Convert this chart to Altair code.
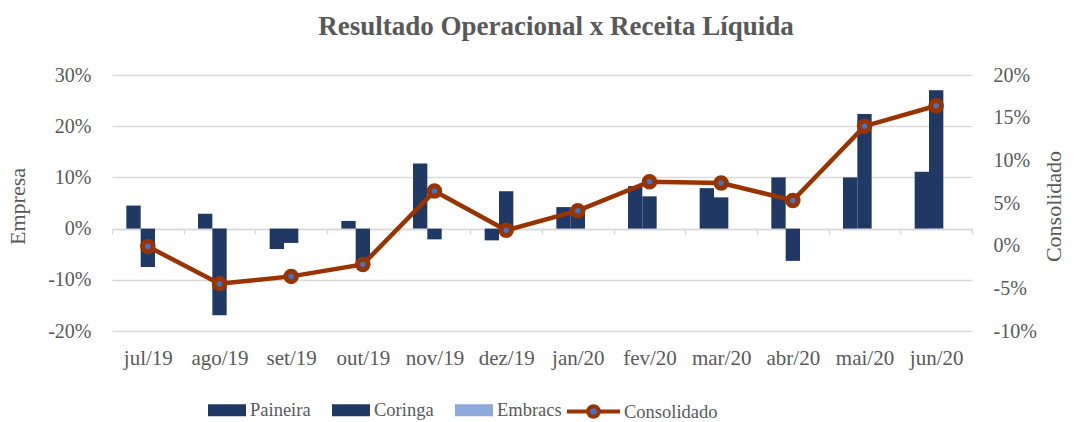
import altair as alt
import pandas as pd

months = ["jul/19", "ago/19", "set/19", "out/19", "nov/19", "dez/19",
          "jan/20", "fev/20", "mar/20", "abr/20", "mai/20", "jun/20"]
paineira = [4.5, 2.9, -4.0, 1.5, 12.7, -2.3, 4.2, 8.3, 7.9, 10.0, 10.0, 11.1]
coringa = [-7.5, -16.9, -2.8, -6.5, -2.1, 7.3, 4.1, 6.3, 6.1, -6.3, 22.4, 27.0]
embracs = [0, 0, 0, 0, 0, 0, 0, 0, 0, 0, 0, 0]
consolidado = [-0.1, -4.45, -3.6, -2.2, 6.4, 1.8, 4.1, 7.5, 7.35, 5.3, 14.0, 16.4]

series = ["Paineira", "Coringa", "Embracs"]
bar_colors = ["#203864", "#203864", "#8EA9DB"]

rows = []
for name, vals in zip(series, [paineira, coringa, embracs]):
    for m, v in zip(months, vals):
        rows.append({"mes": m, "serie": name, "valor": v})
bars_df = pd.DataFrame(rows)
line_df = pd.DataFrame({"mes": months, "valor": consolidado, "serie": "Consolidado"})

FONT = "Liberation Serif"
GREY = "#595959"
GRID = "#D9D9D9"

x_enc = alt.X("mes:N", sort=months,
              scale=alt.Scale(paddingInner=0, paddingOuter=0),
              axis=alt.Axis(title=None, orient="bottom", offset=-102,
                            domainColor=GRID, domainWidth=1.5,
                            tickColor=GRID, tickWidth=1.5, tickSize=5,
                            tickBand="extent", labelAngle=0,
                            labelPadding=113, labelFont=FONT,
                            labelFontSize=21, labelColor=GREY,
                            labelOverlap=False, grid=False))

bars = alt.Chart(bars_df).mark_bar().encode(
    x=x_enc,
    xOffset=alt.XOffset("serie:N", sort=series,
                        scale=alt.Scale(paddingInner=0, paddingOuter=1)),
    y=alt.Y("valor:Q",
            scale=alt.Scale(domain=[-20, 30], nice=False, zero=False),
            axis=alt.Axis(title="Empresa", values=[-20, -10, 0, 10, 20, 30],
                          labelExpr="datum.value + '%'",
                          domain=False, ticks=False, grid=True,
                          gridColor=GRID, gridWidth=1.5,
                          labelFont=FONT, labelFontSize=20, labelColor=GREY,
                          labelPadding=21,
                          titleFont=FONT, titleFontSize=22, titleColor=GREY,
                          titleFontWeight="normal", titleX=-83, titleY=131,
                          titleAngle=270)),
    color=alt.Color("serie:N", sort=series,
                    scale=alt.Scale(domain=series, range=bar_colors),
                    legend=alt.Legend(title=None, orient="none",
                                      direction="horizontal",
                                      legendX=96, legendY=316,
                                      symbolType="M-1,-0.32H1V0.32H-1Z",
                                      symbolSize=1444, symbolStrokeWidth=0,
                                      labelFont=FONT, labelFontSize=18.5,
                                      labelColor=GREY, labelOffset=4,
                                      columnPadding=21)),
)

right_axis = alt.Axis(title="Consolidado", orient="right",
                      values=[-10, -5, 0, 5, 10, 15, 20],
                      labelExpr="datum.value + '%'",
                      domain=False, ticks=False, grid=False,
                      labelFont=FONT, labelFontSize=20, labelColor=GREY,
                      labelPadding=21,
                      titleFont=FONT, titleFontSize=22, titleColor=GREY,
                      titleFontWeight="normal", titleAngle=270,
                      titleX=93, titleY=131)

y_right = alt.Y("valor:Q", scale=alt.Scale(domain=[-10, 20], nice=False, zero=False),
                axis=right_axis)

line = alt.Chart(line_df).mark_line(strokeWidth=4.5).encode(
    x=x_enc,
    y=y_right,
    stroke=alt.Stroke("serie:N",
                      scale=alt.Scale(domain=["Consolidado"], range=["#993300"]),
                      legend=alt.Legend(title=None, orient="none",
                                        legendX=453, legendY=308,
                                        symbolType="M-1,0H-0.2M0.2,0H1M0.2,0A0.2,0.2 0 1,1 -0.2,0A0.2,0.2 0 1,1 0.2,0",
                                        symbolSize=2809,
                                        symbolFillColor="#4472C4",
                                        symbolStrokeWidth=4,
                                        labelFont=FONT, labelFontSize=18.5,
                                        labelColor=GREY, labelOffset=2)),
)

pts = alt.Chart(line_df).mark_point(filled=True, size=110, fill="#4472C4",
                                     stroke="#993300", strokeWidth=5,
                                     opacity=1).encode(
    x=x_enc,
    y=y_right,
)

chart = alt.layer(bars, alt.layer(line, pts)).resolve_scale(
    y="independent", color="independent", stroke="independent"
).properties(
    width=860, height=256,
    autosize=alt.AutoSizeParams(type="none"),
    padding={"left": 104, "top": 67, "right": 94, "bottom": 91},
    title=alt.TitleParams("Resultado Operacional x Receita Líquida",
                          font=FONT, fontSize=27, fontWeight="bold",
                          color=GREY, anchor="middle", offset=24, dx=14),
).configure(font=FONT).configure_legend(
    labelFont=FONT, labelColor=GREY
).configure_view(stroke=None)

chart.save("out.html", embed_options={"renderer": "svg", "actions": False})
